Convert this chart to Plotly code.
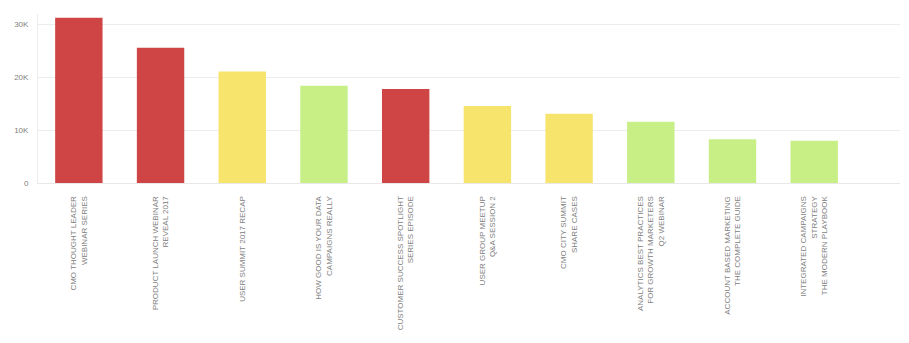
import plotly.graph_objects as go

categories = [
    "CMO THOUGHT LEADER<br>WEBINAR SERIES",
    "PRODUCT LAUNCH WEBINAR<br>REVEAL 2017",
    "USER SUMMIT 2017 RECAP",
    "HOW GOOD IS YOUR DATA<br>CAMPAIGNS REALLY",
    "CUSTOMER SUCCESS SPOTLIGHT<br>SERIES EPISODE",
    "USER GROUP MEETUP<br>Q&A SESSION 2",
    "CMO CITY SUMMIT<br>SHARE CASES",
    "ANALYTICS BEST PRACTICES<br>FOR GROWTH MARKETERS<br>Q2 WEBINAR",
    "ACCOUNT BASED MARKETING<br>THE COMPLETE GUIDE",
    "INTEGRATED CAMPAIGNS<br>STRATEGY<br>THE MODERN PLAYBOOK",
]
values = [31300, 25600, 21100, 18400, 17800, 14600, 13100, 11600, 8300, 8000]
status = ["red", "red", "yellow", "green", "red", "yellow", "yellow", "green", "green", "green"]
status_colors = {"red": "#cf4444", "yellow": "#f6e46c", "green": "#c7ef86"}
tick_vals = [0, 10000, 20000, 30000]
tick_text = ["0", "10K", "20K", "30K"]

fig = go.Figure(
    go.Bar(
        x=list(range(len(categories))),
        y=values,
        marker=dict(color=[status_colors[s] for s in status], line=dict(width=0)),
        width=0.58,
    )
)

fig.update_layout(
    width=909,
    height=343,
    margin=dict(l=38, r=9, t=14, b=160),
    paper_bgcolor="white",
    plot_bgcolor="white",
    showlegend=False,
    font=dict(family="Liberation Sans, Arial, sans-serif", size=8, color="#808080"),
)
fig.update_xaxes(
    tickvals=list(range(len(categories))),
    ticktext=categories,
    tickangle=-90,
    range=[-0.5, 10.05],
    showgrid=False,
    showline=True,
    linecolor="#e8e8e8",
    ticks="",
    ticklabelstandoff=9,
    tickfont=dict(size=8, color="#808080"),
)
fig.update_yaxes(
    range=[0, 32000],
    tickvals=tick_vals,
    ticktext=tick_text,
    showgrid=True,
    gridcolor="#ececec",
    zeroline=False,
    showline=True,
    linecolor="#eeeeee",
    ticks="",
    ticklabelstandoff=7,
    tickfont=dict(size=8, color="#808080"),
)

fig.write_html("out.html")
